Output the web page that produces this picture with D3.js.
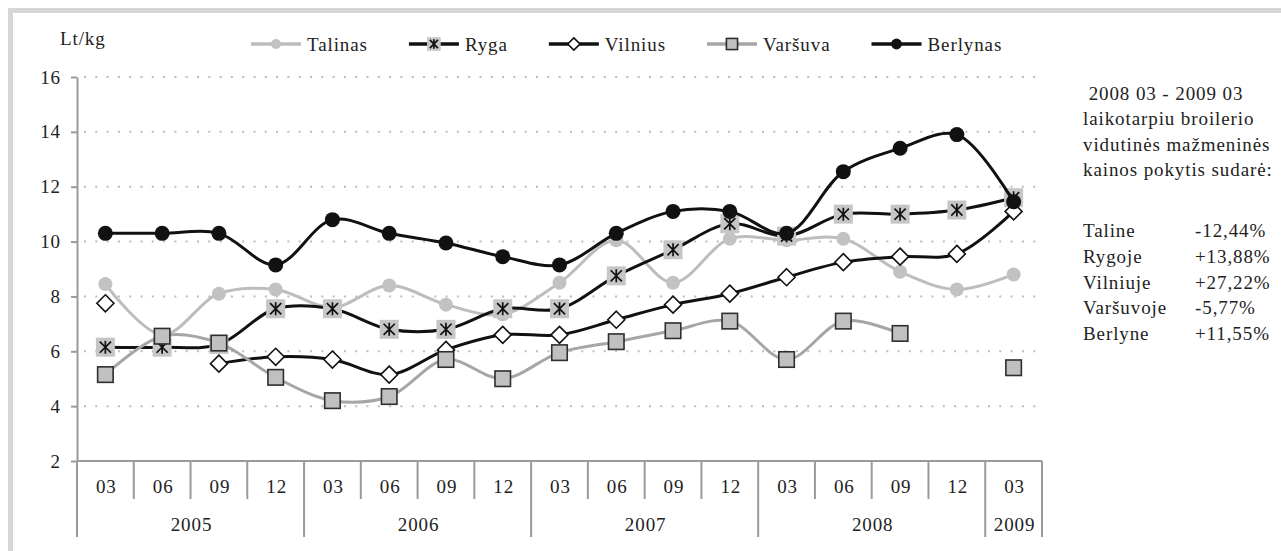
<!DOCTYPE html>
<html>
<head>
<meta charset="utf-8">
<title>Broilerio kainos</title>
<script src="https://d3js.org/d3.v7.min.js"></script>
<style>
  body { margin: 0; background: #fff; }
  svg text {
    font-family: "Liberation Serif", "Times New Roman", serif;
    font-size: 19px;
    letter-spacing: 0.9px;
    fill: #222;
  }
</style>
</head>
<body>
<div id="chart"></div>
<script>
// Categories (quarter months) and years
var months = ["03","06","09","12","03","06","09","12","03","06","09","12","03","06","09","12","03"];
var years = ["2005","2006","2007","2008","2009"];
var yearSpans = [4, 4, 4, 4, 1];
var yTicks = [2, 4, 6, 8, 10, 12, 14, 16];

// Prices, Lt/kg
var talinas  = [8.45, 6.6, 8.1, 8.25, 7.6, 8.4, 7.7, 7.35, 8.5, 10.05, 8.5, 10.1, 10.05, 10.1, 8.9, 8.25, 8.8];
var ryga     = [6.15, 6.15, 6.25, 7.55, 7.55, 6.8, 6.8, 7.55, 7.55, 8.75, 9.7, 10.65, 10.2, 11.0, 11.0, 11.15, 11.6];
var vilnius  = [7.75, null, 5.55, 5.8, 5.7, 5.15, 6.05, 6.6, 6.6, 7.15, 7.7, 8.1, 8.7, 9.25, 9.45, 9.55, 11.1];
var varsuva  = [5.15, 6.55, 6.3, 5.05, 4.2, 4.35, 5.7, 5.0, 5.95, 6.35, 6.75, 7.1, 5.7, 7.1, 6.65, null, 5.4];
var berlynas = [10.3, 10.3, 10.3, 9.15, 10.8, 10.3, 9.95, 9.45, 9.15, 10.3, 11.1, 11.1, 10.3, 12.55, 13.4, 13.9, 11.45];

var seriesNames = ["Talinas", "Ryga", "Vilnius", "Varšuva", "Berlynas"];

// Side note
var noteLines = [" 2008 03 - 2009 03", "laikotarpiu broilerio", "vidutinės mažmeninės", "kainos pokytis sudarė:"];
var changeCities = ["Taline", "Rygoje", "Vilniuje", "Varšuvoje", "Berlyne"];
var changeValues = ["-12,44%", "+13,88%", "+27,22%", "-5,77%", "+11,55%"];

var series = [
  { name: seriesNames[0], values: talinas,  line: "#bdbdbd", marker: "circleGray" },
  { name: seriesNames[1], values: ryga,     line: "#111",    marker: "star" },
  { name: seriesNames[2], values: vilnius,  line: "#111",    marker: "diamond" },
  { name: seriesNames[3], values: varsuva,  line: "#a6a6a6", marker: "square" },
  { name: seriesNames[4], values: berlynas, line: "#111",    marker: "circleBlack" }
];

var width = 1281, height = 551;

var svg = d3.select("#chart")
  .append("svg")
  .attr("width", width)
  .attr("height", height);

// Frame
svg.append("rect")
  .attr("x", 10.5).attr("y", 10.5)
  .attr("width", 1400).attr("height", 700)
  .attr("fill", "#fff")
  .attr("stroke", "#d6d6d6")
  .attr("stroke-width", 5);

// Scales
var x = d3.scaleBand()
  .domain(d3.range(months.length))
  .range([77, 1042])
  .paddingInner(0).paddingOuter(0);

var y = d3.scaleLinear()
  .domain([2, 16])
  .range([461, 77]);

function cx(i) { return x(i) + x.bandwidth() / 2; }

// Grid lines
svg.append("g")
  .selectAll("line")
  .data(yTicks.slice(1))
  .enter()
  .append("line")
  .attr("x1", 84).attr("x2", 1040)
  .attr("y1", function(d) { return y(d); })
  .attr("y2", function(d) { return y(d); })
  .attr("stroke", "#bcbcbc")
  .attr("stroke-width", 2)
  .attr("stroke-dasharray", "2,9.3");

// Y axis
var yAxis = svg.append("g")
  .attr("transform", "translate(77,0)")
  .call(d3.axisLeft(y).tickValues(yTicks).tickSize(6).tickSizeOuter(0).tickPadding(10));
yAxis.attr("font-family", null).attr("font-size", null);
yAxis.select(".domain").attr("stroke", "#9a9a9a").attr("stroke-width", 2);
yAxis.selectAll(".tick line").attr("stroke", "#9a9a9a").attr("stroke-width", 2);
yAxis.selectAll(".tick text").style("fill", "#222");

// X axis: baseline, category separators, year separators
var axisY = y(2);
var xAxis = svg.append("g");
xAxis.append("line")
  .attr("x1", x(0)).attr("x2", x.range()[1])
  .attr("y1", axisY).attr("y2", axisY)
  .attr("stroke", "#9a9a9a").attr("stroke-width", 2);

var yearStarts = [0];
yearSpans.forEach(function(s, i) { yearStarts.push(yearStarts[i] + s); });

var bounds = d3.range(months.length + 1);
xAxis.selectAll(".sep")
  .data(bounds)
  .enter()
  .append("line")
  .attr("x1", function(d) { return x(0) + d * x.step(); })
  .attr("x2", function(d) { return x(0) + d * x.step(); })
  .attr("y1", axisY)
  .attr("y2", function(d) { return yearStarts.indexOf(d) >= 0 ? 537 : 499; })
  .attr("stroke", "#9a9a9a").attr("stroke-width", 2);

xAxis.selectAll(".month")
  .data(months)
  .enter()
  .append("text")
  .attr("x", function(d, i) { return cx(i) + 1; })
  .attr("y", 493)
  .attr("text-anchor", "middle")
  .text(function(d) { return d; });

xAxis.selectAll(".year")
  .data(years)
  .enter()
  .append("text")
  .attr("x", function(d, i) {
    return x(0) + (yearStarts[i] + yearSpans[i] / 2) * x.step() + 1;
  })
  .attr("y", 531)
  .attr("text-anchor", "middle")
  .text(function(d) { return d; });

// Unit label
svg.append("text").attr("x", 60).attr("y", 45).text("Lt/kg");

// Markers
function drawMarker(g, type, big) {
  var k = big ? 1 : 0.72;
  if (type === "circleGray") {
    g.append("circle").attr("r", 7 * k).attr("fill", "#c2c2c2");
  } else if (type === "circleBlack") {
    g.append("circle").attr("r", 7.5 * k).attr("fill", "#111");
  } else if (type === "diamond") {
    var h = 8.5 * k;
    g.append("path")
      .attr("d", "M0," + (-h) + "L" + h + ",0L0," + h + "L" + (-h) + ",0Z")
      .attr("fill", "#fff").attr("stroke", "#111").attr("stroke-width", 1.6);
  } else if (type === "square") {
    var s = 15.5 * k;
    g.append("rect")
      .attr("x", -s / 2).attr("y", -s / 2).attr("width", s).attr("height", s)
      .attr("fill", "#c0c0c0").attr("stroke", "#2e2e2e").attr("stroke-width", 1.6);
  } else if (type === "star") {
    var q = 19 * k, a = 6.5 * k, b = 5.6 * k;
    g.append("rect")
      .attr("x", -q / 2).attr("y", -q / 2).attr("width", q).attr("height", q)
      .attr("fill", "#c6c6c6");
    g.append("path")
      .attr("d", "M0," + (-a) + "V" + a +
                 "M" + (-b) + "," + (-b) + "L" + b + "," + b +
                 "M" + b + "," + (-b) + "L" + (-b) + "," + b)
      .attr("stroke", "#111").attr("stroke-width", 1.7).attr("fill", "none");
  }
}

// Lines and markers
var line = d3.line()
  .defined(function(d) { return d != null; })
  .x(function(d, i) { return cx(i); })
  .y(function(d) { return y(d); })
  .curve(d3.curveCatmullRom.alpha(0.5));

series.forEach(function(s) {
  var g = svg.append("g");
  g.append("path")
    .datum(s.values)
    .attr("d", line)
    .attr("fill", "none")
    .attr("stroke", s.line)
    .attr("stroke-width", 3)
    .attr("stroke-linejoin", "round");

  s.values.forEach(function(v, i) {
    if (v == null) return;
    var m = g.append("g").attr("transform", "translate(" + cx(i) + "," + y(v) + ")");
    drawMarker(m, s.marker, true);
  });
});

// Legend
var legend = svg.append("g").attr("transform", "translate(0,44)");
var lx = 251;
series.forEach(function(s) {
  var item = legend.append("g").attr("transform", "translate(" + lx + ",0)");
  item.append("line")
    .attr("x1", 0).attr("x2", 50).attr("y1", 0).attr("y2", 0)
    .attr("stroke", s.line).attr("stroke-width", 3.5);
  var m = item.append("g").attr("transform", "translate(25,0)");
  drawMarker(m, s.marker, false);
  var t = item.append("text").attr("x", 56).attr("y", 7).text(s.name);
  lx += 56 + t.node().getComputedTextLength() + 41;
});

// Side note
var note = svg.append("g");
note.selectAll(".nl")
  .data(noteLines)
  .enter()
  .append("text")
  .attr("x", 1083)
  .attr("y", function(d, i) { return 100 + i * 25.3; })
  .style("white-space", "pre")
  .text(function(d) { return d; });

note.selectAll(".city")
  .data(changeCities)
  .enter()
  .append("text")
  .attr("x", 1083)
  .attr("y", function(d, i) { return 237 + i * 25.8; })
  .text(function(d) { return d; });

note.selectAll(".chg")
  .data(changeValues)
  .enter()
  .append("text")
  .attr("x", 1195)
  .attr("y", function(d, i) { return 237 + i * 25.8; })
  .text(function(d) { return d; });
</script>
</body>
</html>
